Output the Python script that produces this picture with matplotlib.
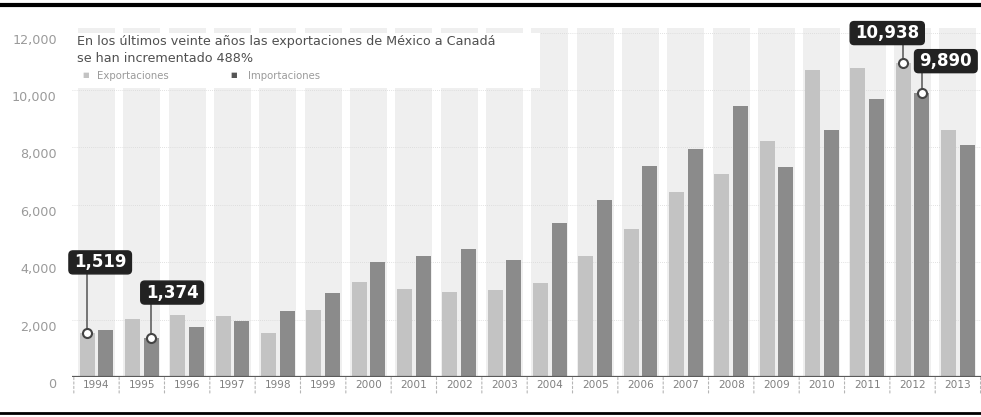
import matplotlib
matplotlib.use("Agg")
import matplotlib.pyplot as plt
import matplotlib.transforms as mtransforms
from matplotlib.patches import Rectangle, FancyBboxPatch
import numpy as np

plt.rcParams['font.family'] = ['DejaVu Sans']

years = ['1994', '1995', '1996', '1997', '1998', '1999', '2000', '2001', '2002', '2003',
         '2004', '2005', '2006', '2007', '2008', '2009', '2010', '2011', '2012', '2013']
exportaciones = [1519, 2010, 2150, 2120, 1530, 2330, 3310, 3080, 2960, 3040,
                 3270, 4200, 5140, 6460, 7080, 8230, 10700, 10770, 10938, 8610]
importaciones = [1650, 1374, 1740, 1945, 2290, 2930, 4000, 4200, 4470, 4090,
                 5350, 6150, 7360, 7950, 9440, 7330, 8610, 9690, 9890, 8090]
yticks = [0, 2000, 4000, 6000, 8000, 10000, 12000]
ytick_labels = ['0', '2,000', '4,000', '6,000', '8,000', '10,000', '12,000']
title = 'En los últimos veinte años las exportaciones de México a Canadá\nse han incrementado 488%'
legend_labels = ['Exportaciones', 'Importaciones']

c_exp = '#c3c3c3'
c_imp = '#8b8b8b'

W, H = 981, 417
fig = plt.figure(figsize=(W / 100, H / 100), dpi=100)
fig.patch.set_facecolor('white')

ax_left, ax_right, ax_bottom, ax_top = 72, 981, 377, 28
ax = fig.add_axes([ax_left / W, (H - ax_bottom) / H, (ax_right - ax_left) / W, (ax_bottom - ax_top) / H])
ax.set_facecolor('white')

x = np.arange(len(years))
bw = 0.33
off = 0.205

ax.set_xlim(-0.54, 19.51)
ax.set_ylim(0, 12160)

# background bands
for xi in x:
    ax.axvspan(xi - 0.41, xi + 0.41, color='#efefef', zorder=0, lw=0)

# gridlines
for t in yticks[1:]:
    ax.axhline(t, color='#d8d8d8', lw=0.6, ls=(0, (1, 1.5)), zorder=0.5)

ax.bar(x - off, exportaciones, bw, color=c_exp, zorder=2, lw=0)
ax.bar(x + off, importaciones, bw, color=c_imp, zorder=2, lw=0)

for s in ax.spines.values():
    s.set_visible(False)
ax.axhline(0, color='#5a5a5a', lw=1.6, zorder=3)

ax.set_yticks(yticks)
ax.set_yticklabels(ytick_labels)
ax.tick_params(axis='y', length=0, pad=11, labelsize=9.2, labelcolor='#9a9a9a')
shift = mtransforms.ScaledTranslation(0, -6 / 100, fig.dpi_scale_trans)
for lab in ax.get_yticklabels():
    lab.set_transform(lab.get_transform() + shift)

ax.set_xticks(x)
ax.set_xticklabels(years)
ax.tick_params(axis='x', length=0, pad=2, labelsize=7.6, labelcolor='#808080')

# dashed separators below axis
for xi in np.arange(-0.5, len(years), 1.0):
    ax.annotate('', xy=(xi, 0), xytext=(0, -16), textcoords='offset pixels',
                xycoords='data',
                arrowprops=dict(arrowstyle='-', color='#b5b5b5', lw=0.8, ls=(0, (2, 2)),
                                shrinkA=0, shrinkB=0), annotation_clip=False)

# title box
fig.patches.append(Rectangle((ax_left / W, (H - 88) / H), (540 - ax_left) / W, (88 - 33) / H,
                             transform=fig.transFigure, fc='white', ec='none', zorder=1))
fig.text(77 / W, (H - 42) / H, title.split('\n')[0], fontsize=9.2, color='#4f4f4f',
         va='center', ha='left', zorder=2)
fig.text(77 / W, (H - 58) / H, title.split('\n')[1], fontsize=9.2, color='#4f4f4f',
         va='center', ha='left', zorder=2)
fig.text(82 / W, (H - 75.5) / H, '■', fontsize=5, color=c_exp, va='center', ha='left', zorder=2)
fig.text(97 / W, (H - 76) / H, legend_labels[0], fontsize=7.3, color='#9a9a9a', va='center', ha='left', zorder=2)
fig.text(230 / W, (H - 75.5) / H, '■', fontsize=5, color='#555555', va='center', ha='left', zorder=2)
fig.text(248 / W, (H - 76) / H, legend_labels[1], fontsize=7.3, color='#9a9a9a', va='center', ha='left', zorder=2)

# callouts: (x, y, box dx px, box dy px)
callouts = [
    (0 - off, exportaciones[0], 13, 71),
    (1 + off, importaciones[1], 21, 45),
    (18 - off, exportaciones[18], -16, 30),
    (18 + off, importaciones[18], 24, 32),
]
renderer = fig.canvas.get_renderer()
box_h = 23
ident = mtransforms.IdentityTransform()
for cx, cy, dx, dy in callouts:
    px, py = ax.transData.transform((cx, cy))
    bx, by = px + dx, py + dy
    t = fig.text(bx, by, f'{cy:,}', transform=ident,
                 ha='center', va='center', fontsize=12, fontweight='bold', color='white', zorder=8)
    ext = t.get_window_extent(renderer)
    bw_px = ext.width + 10
    fig.patches.append(FancyBboxPatch((bx - bw_px / 2, by - box_h / 2), bw_px, box_h,
                                      boxstyle='round,pad=0,rounding_size=4',
                                      transform=ident, fc='#222222', ec='#222222', zorder=7))
    fig.add_artist(plt.Line2D([px, px], [py, by - box_h / 2], color='#555555', lw=1.1,
                              transform=ident, zorder=6))
    fig.add_artist(plt.Line2D([px], [py], marker='o', ms=6.5, mfc='white', mec='#444444',
                              mew=1.5, ls='none', transform=ident, zorder=9))

# top and bottom black rules
fig.add_artist(plt.Line2D([0, 1], [(H - 5) / H, (H - 5) / H], color='black', lw=3,
                          transform=fig.transFigure))
fig.add_artist(plt.Line2D([0, 1], [(H - 413) / H, (H - 413) / H], color='black', lw=2,
                          transform=fig.transFigure))

fig.savefig('out.png', dpi=100)
